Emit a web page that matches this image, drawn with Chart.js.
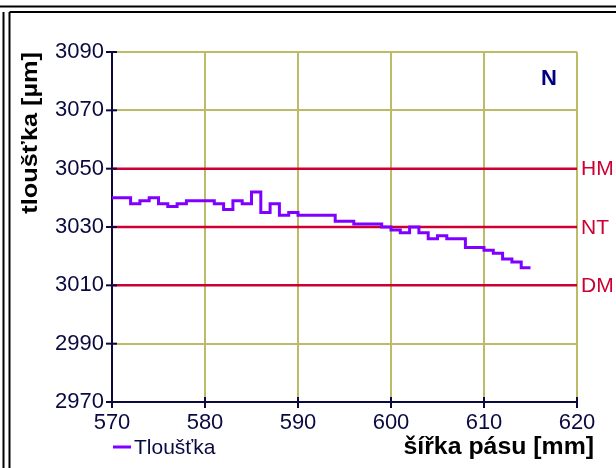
<!DOCTYPE html>
<html>
<head>
<meta charset="utf-8">
<script src="https://cdn.jsdelivr.net/npm/chart.js@4.4.0/dist/chart.umd.min.js"></script>
<style>
  html, body { margin: 0; padding: 0; background: #fff; }
  canvas { display: block; }
</style>
</head>
<body>
<canvas id="chart" width="616" height="468"></canvas>
<script>
  // Data
  const widthMm = [570, 571, 572, 573, 574, 575, 576, 577, 578, 579,
                   580, 581, 582, 583, 584, 585, 586, 587, 588, 589,
                   590, 591, 592, 593, 594, 595, 596, 597, 598, 599,
                   600, 601, 602, 603, 604, 605, 606, 607, 608, 609,
                   610, 611, 612, 613, 614, 615];
  const thickness = [3040, 3040, 3038, 3039, 3040, 3038, 3037, 3038, 3039, 3039,
                     3039, 3038, 3036, 3039, 3038, 3042, 3035, 3038, 3034, 3035,
                     3034, 3034, 3034, 3034, 3032, 3032, 3031, 3031, 3031, 3030,
                     3029, 3028, 3030, 3028, 3026, 3027, 3026, 3026, 3023, 3023,
                     3022, 3021, 3019, 3018, 3016, 3016];
  const limitNames = ["HM", "NT", "DM"];
  const limitValues = [3050, 3030, 3010];
  const xLimits = [570, 620];
  const yLimits = [2970, 3090];

  const navy = "#0a0a40";
  const khaki = "#bdbb66";
  const red = "#cc0033";
  const purple = "#8000ff";
  const fontFamily = "'Liberation Sans', Arial, sans-serif";

  function line(ctx, x1, y1, x2, y2) {
    ctx.beginPath();
    ctx.moveTo(x1, y1);
    ctx.lineTo(x2, y2);
    ctx.stroke();
  }

  // Frame, crossing ticks, labels, titles and legend
  const decor = {
    id: "decor",
    beforeDraw(chart) {
      const ctx = chart.ctx;
      ctx.save();
      ctx.fillStyle = "#fff";
      ctx.fillRect(0, 0, chart.width, chart.height);
      ctx.restore();
    },
    afterDraw(chart) {
      const ctx = chart.ctx;
      const xs = chart.scales.x;
      const ys = chart.scales.y;
      const area = chart.chartArea;
      ctx.save();

      // outer frame
      ctx.strokeStyle = "#000";
      ctx.lineWidth = 2;
      line(ctx, 0, 6.5, 616, 6.5);
      line(ctx, 9.5, 12, 616, 12);
      line(ctx, 3.5, 12, 3.5, 468);
      line(ctx, 9.5, 12, 9.5, 468);

      // ticks crossing the axes
      ctx.strokeStyle = navy;
      ctx.lineWidth = 2;
      ys.ticks.forEach(function (t) {
        const y = ys.getPixelForValue(t.value);
        line(ctx, area.left - 6, y, area.left + 5, y);
      });
      xs.ticks.forEach(function (t) {
        const x = xs.getPixelForValue(t.value);
        line(ctx, x, area.bottom - 5, x, area.bottom + 6);
      });

      // limit names
      ctx.fillStyle = red;
      ctx.font = "21px " + fontFamily;
      ctx.textAlign = "left";
      ctx.textBaseline = "middle";
      limitNames.forEach(function (name, i) {
        ctx.fillText(name, area.right + 4, ys.getPixelForValue(limitValues[i]) + 1);
      });

      // sample letter
      ctx.fillStyle = "#000080";
      ctx.font = "bold 22px " + fontFamily;
      ctx.textAlign = "center";
      ctx.fillText("N", 549, 79);

      // axis titles
      ctx.fillStyle = "#000";
      ctx.save();
      ctx.translate(594, 448);
      ctx.scale(1.08, 1);
      ctx.font = "bold 23px " + fontFamily;
      ctx.textAlign = "right";
      ctx.fillText("šířka pásu [mm]", 0, 0);
      ctx.restore();

      ctx.save();
      ctx.translate(31, area.top);
      ctx.rotate(-Math.PI / 2);
      ctx.scale(1.15, 1);
      ctx.font = "bold 22px " + fontFamily;
      ctx.textAlign = "right";
      ctx.fillText("tloušťka [µm]", 0, 0);
      ctx.restore();

      // legend
      ctx.strokeStyle = purple;
      ctx.lineWidth = 3;
      line(ctx, 113, 447, 131, 447);
      ctx.fillStyle = navy;
      ctx.font = "21px " + fontFamily;
      ctx.textAlign = "left";
      ctx.fillText("Tloušťka", 134, 448);

      ctx.restore();
    }
  };

  const limitSets = limitValues.map(function (v, i) {
    return {
      label: limitNames[i],
      data: [{ x: xLimits[0], y: v }, { x: xLimits[1], y: v }],
      borderColor: red,
      borderWidth: 2.5,
      pointRadius: 0,
      order: 2
    };
  });

  function plainNumber(v) {
    return String(v);
  }

  new Chart(document.getElementById("chart"), {
    type: "line",
    data: {
      datasets: limitSets.concat([
        {
          label: "Tloušťka",
          data: widthMm.map(function (x, i) { return { x: x, y: thickness[i] }; }),
          borderColor: purple,
          borderWidth: 3,
          stepped: true,
          pointRadius: 0,
          order: 1
        }
      ])
    },
    options: {
      responsive: false,
      animation: false,
      layout: { padding: { left: 0, top: 52, right: 39, bottom: 0 } },
      plugins: {
        legend: { display: false },
        tooltip: { enabled: false }
      },
      scales: {
        x: {
          type: "linear",
          min: xLimits[0],
          max: xLimits[1],
          afterFit: function (s) { s.height = 66; },
          ticks: {
            stepSize: 10,
            padding: 8,
            color: navy,
            callback: plainNumber,
            font: { family: fontFamily, size: 22 }
          },
          grid: { color: khaki, lineWidth: 2, drawTicks: false },
          border: { color: navy, width: 2 }
        },
        y: {
          min: yLimits[0],
          max: yLimits[1],
          afterFit: function (s) { s.width = 112; },
          ticks: {
            stepSize: 20,
            padding: 8,
            color: navy,
            callback: plainNumber,
            font: { family: fontFamily, size: 22 }
          },
          grid: { color: khaki, lineWidth: 2, drawTicks: false },
          border: { color: navy, width: 2 }
        }
      }
    },
    plugins: [decor]
  });
</script>
</body>
</html>
